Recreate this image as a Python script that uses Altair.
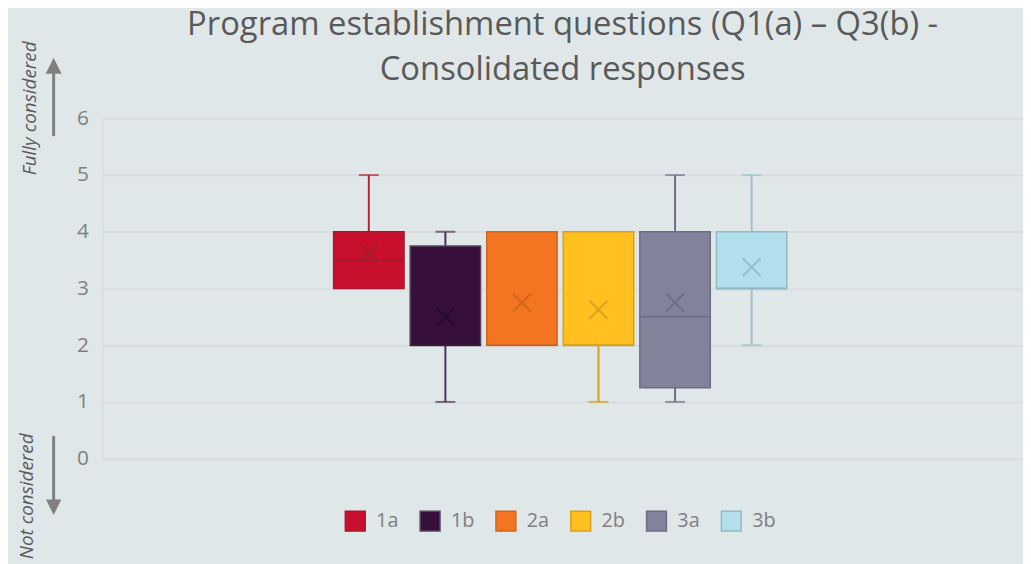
import altair as alt
import pandas as pd

series = ["1a", "1b", "2a", "2b", "3a", "3b"]
series_index = [0, 1, 2, 3, 4, 5]
mins = [3, 1, 2, 1, 1, 2]
q1s = [3, 2, 2, 2, 1.25, 3]
medians = [3.5, 2, 2, 2, 2.5, 3]
q3s = [4, 3.75, 4, 4, 4, 4]
maxs = [5, 4, 4, 4, 5, 5]
means = [3.625, 2.5, 2.75, 2.625, 2.75, 3.375]

fill_colors = ["#C8102E", "#370F3B", "#F37521", "#FFC020", "#82839B", "#B1DFEC"]
edge_colors = ["#A3172F", "#5A4660", "#D2661E", "#D9A11B", "#6C6D84", "#93BAC6"]
whisker_colors = ["#B0243C", "#4C3352", "#D2661E", "#D4A017", "#6E6F86", "#9FC1CA"]
mean_colors = ["#962032", "#240A28", "#C8631E", "#D29C20", "#6A6B82", "#8FB5C2"]

df = pd.DataFrame({
    "series": series, "idx": series_index, "min": mins, "q1": q1s,
    "median": medians, "q3": q3s, "max": maxs, "mean": means,
    "wcol": whisker_colors, "mcol": mean_colors,
})

GRAY = "#595959"
LIGHT = "#808080"

x = alt.X("idx:Q", scale=alt.Scale(domain=[-3.417, 8.48], nice=False, zero=False),
          axis=alt.Axis(title=None, labels=False, ticks=False, domain=False, grid=False))
y_scale = alt.Scale(domain=[0, 6])
yaxis = alt.Axis(title=None, values=[0, 1, 2, 3, 4, 5, 6], format="d", labelFontSize=21,
                 labelColor=LIGHT, labelPadding=14, ticks=False, domain=True,
                 domainColor="#D6DCDF", domainWidth=1.5, grid=True,
                 gridColor="#D6DCDF", gridWidth=2, labelFont="Open Sans")

base = alt.Chart(df)

whisker_low = base.transform_filter("datum.min < datum.q1").mark_rule(strokeWidth=2).encode(
    x=x, y=alt.Y("min:Q", scale=y_scale, axis=yaxis), y2="q1:Q",
    color=alt.Color("wcol:N", scale=None))
whisker_high = base.transform_filter("datum.max > datum.q3").mark_rule(strokeWidth=2).encode(
    x=x, y=alt.Y("q3:Q", scale=y_scale), y2="max:Q",
    color=alt.Color("wcol:N", scale=None))
cap_low = base.transform_filter("datum.min < datum.q1").mark_tick(
    orient="horizontal", size=20, thickness=2).encode(
    x=x, y=alt.Y("min:Q", scale=y_scale), color=alt.Color("wcol:N", scale=None))
cap_high = base.transform_filter("datum.max > datum.q3").mark_tick(
    orient="horizontal", size=20, thickness=2).encode(
    x=x, y=alt.Y("max:Q", scale=y_scale), color=alt.Color("wcol:N", scale=None))

box = base.mark_bar(size=71, strokeWidth=1.5).encode(
    x=x, y=alt.Y("q1:Q", scale=y_scale), y2="q3:Q",
    fill=alt.Fill("series:N", sort=series,
                  scale=alt.Scale(domain=series, range=fill_colors),
                  legend=alt.Legend(title=None)),
    stroke=alt.Stroke("series:N", sort=series,
                      scale=alt.Scale(domain=series, range=edge_colors),
                      legend=alt.Legend(title=None)),
)

median = base.mark_tick(orient="horizontal", size=71, thickness=2).encode(
    x=x, y=alt.Y("median:Q", scale=y_scale), color=alt.Color("mcol:N", scale=None))

mean = base.mark_point(shape="M-1,-1L1,1M-1,1L1,-1", size=324, strokeWidth=2,
                       filled=False, opacity=0.8).encode(
    x=x, y=alt.Y("mean:Q", scale=y_scale), color=alt.Color("mcol:N", scale=None))

one = pd.DataFrame({"a": [0]})
ann = alt.Chart(one)
txt_full = ann.mark_text(text="Fully considered", angle=270, fontStyle="italic",
                         fontSize=19, font="Open Sans", color=GRAY,
                         align="center", baseline="middle").encode(
    x=alt.value(-73), y=alt.value(-10))
txt_not = ann.mark_text(text="Not considered", angle=270, fontStyle="italic",
                        fontSize=19, font="Open Sans", color=GRAY,
                        align="center", baseline="middle").encode(
    x=alt.value(-76), y=alt.value(381))
arrow_up_shaft = ann.mark_rule(color=LIGHT, strokeWidth=3).encode(
    x=alt.value(-49), y=alt.value(-47), y2=alt.value(18))
arrow_up_head = ann.mark_point(shape="M0,-1L1,1L-1,1Z", size=256, filled=True,
                               color=LIGHT, opacity=1).encode(
    x=alt.value(-49), y=alt.value(-53))
arrow_dn_shaft = ann.mark_rule(color=LIGHT, strokeWidth=3).encode(
    x=alt.value(-49), y=alt.value(320), y2=alt.value(387))
arrow_dn_head = ann.mark_point(shape="M0,1L1,-1L-1,-1Z", size=240, filled=True,
                               color=LIGHT, opacity=1).encode(
    x=alt.value(-49), y=alt.value(392))

chart = alt.layer(
    whisker_low, whisker_high, cap_low, cap_high, box, median, mean,
    txt_full, txt_not, arrow_up_shaft, arrow_up_head, arrow_dn_shaft, arrow_dn_head,
).properties(
    width=928, height=343,
    title=alt.TitleParams(
        text=["Program establishment questions (Q1(a) – Q3(b) -", "Consolidated responses"],
        fontSize=33, font="Open Sans", fontWeight="normal", color=GRAY,
        anchor="middle", frame="group", offset=30, lineHeight=46, dy=76),
    autosize=alt.AutoSizeParams(type="none"),
    padding={"left": 95, "top": 109, "right": 0, "bottom": 104},
).configure(background="#E0E7E9").configure_view(stroke=None).configure_legend(
    orient="none", legendX=244, legendY=395, padding=0,
    direction="horizontal", symbolType="square", symbolSize=400,
    symbolStrokeWidth=1.5, labelFontSize=20, labelColor=LIGHT, labelFont="Open Sans",
    labelOffset=10, columnPadding=18.4,
)

chart.save("out.html", embed_options={"renderer": "svg", "actions": False})
